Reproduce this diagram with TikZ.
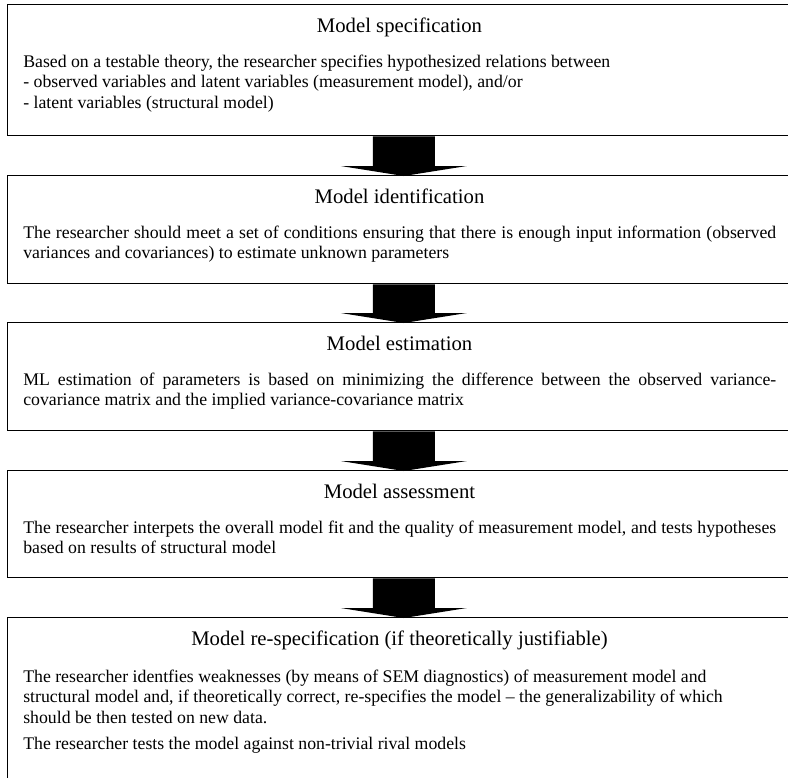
\documentclass[tikz,border=0pt]{standalone}
\usepackage{fontspec}
\setmainfont{Liberation Serif}
\usetikzlibrary{calc}

% block arrow from the bottom of one stage box to the top of the next
\newcommand\flowarrow[2]{%
  \fill[flow] ($(#1.south)+(-31,0)$) -- ($(#1.south)+(31,0)$)
    -- ($(#2.north)+(31,-9)$) -- ($(#2.north)+(63,-9)$)
    -- ($(#2.north)+(0,1)$)
    -- ($(#2.north)+(-63,-9)$) -- ($(#2.north)+(-31,-9)$) -- cycle;}

\begin{document}
\begin{tikzpicture}[x=0.676pt,y=-0.676pt,
  stage/.style={draw=black, line width=1pt, anchor=north west,
    minimum width=535.4pt, inner sep=0pt},
  heading/.style={anchor=base, inner sep=0pt, font=\fontsize{14}{16}\selectfont},
  body/.style={anchor=north west, inner sep=0pt, align=left,
    font=\fontsize{12}{13.8}\selectfont},
  flow/.style={fill=black}]
\useasboundingbox (0,0) rectangle (788,777);
\clip (0,0) rectangle (788,777);

% stage boxes
\node[stage, minimum height=88.56pt] (s1) at (7,4) {};
\node[stage, minimum height=73pt]    (s2) at (7,175) {};
\node[stage, minimum height=73pt]    (s3) at (7,322) {};
\node[stage, minimum height=72.3pt]  (s4) at (7,470) {};
\node[stage, minimum height=118.3pt] (s5) at (7,617) {};

% headings
\node[heading] (t1) at (399.5,32)  {Model specification};
\node[heading] (t2) at (399.5,203) {Model identification};
\node[heading] (t3) at (399.5,350) {Model estimation};
\node[heading] (t4) at (399.5,498) {Model assessment};
\node[heading] (t5) at (399.5,645) {Model re-specification (if theoretically justifiable)};

% descriptions
\node[body] (d1) at (23,52.7) {\strut Based on a testable theory, the researcher specifies hypothesized relations between\\
- observed variables and latent variables (measurement model), and/or\\
- latent variables (structural model)};

\node[body] (d2) at (23,223.7) {\strut\makebox[509pt][s]{The researcher should meet a set of conditions ensuring that there is enough input information (observed}\\
variances and covariances) to estimate unknown parameters};

\node[body] (d3) at (23,370.7) {\strut\makebox[509pt][s]{ML estimation of parameters is based on minimizing the difference between the observed variance-}\\
covariance matrix and the implied variance-covariance matrix};

\node[body] (d4) at (23,518.7) {\strut\makebox[509pt][s]{The researcher interpets the overall model fit and the quality of measurement model, and tests hypotheses}\\
based on results of structural model};

\node[body] (d5) at (23,667.7) {\strut The researcher identfies weaknesses (by means of SEM diagnostics) of measurement model and\\
structural model and, if theoretically correct, re-specifies the model -- the generalizability of which\\
should be then tested on new data.\\[4pt]
The researcher tests the model against non-trivial rival models};

% arrows between stages
\flowarrow{s1}{s2}
\flowarrow{s2}{s3}
\flowarrow{s3}{s4}
\flowarrow{s4}{s5}
\end{tikzpicture}
\end{document}
